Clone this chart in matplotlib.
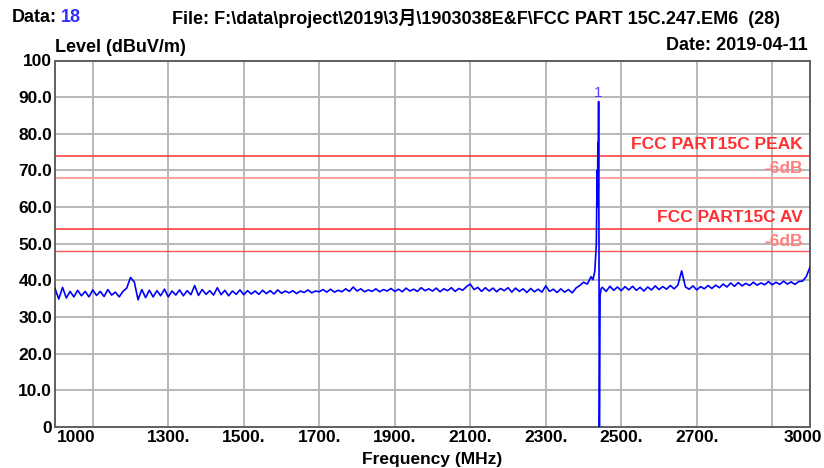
import numpy as np
import matplotlib
matplotlib.use("Agg")
import matplotlib.pyplot as plt
import matplotlib.transforms as mtransforms

plt.rcParams['font.family'] = ['Liberation Sans', 'Noto Sans CJK SC', 'DejaVu Sans']

# --- data ---
freq_lo = np.arange(1000, 2430, 10)
level_lo = [
    37.8, 34.9, 38.1, 35.2, 37.0, 35.5, 37.3, 35.8, 37.0, 35.5,
    37.4, 35.9, 37.0, 35.6, 37.5, 36.0, 36.8, 35.5, 37.0, 37.9,
    40.8, 39.6, 34.7, 37.5, 35.3, 37.3, 35.5, 37.2, 35.8, 37.6,
    35.5, 37.1, 36.0, 37.4, 35.8, 37.2, 36.1, 38.6, 35.9, 37.5,
    36.2, 37.2, 36.0, 38.0, 36.1, 37.3, 35.8, 37.1, 36.2, 37.4,
    36.1, 37.2, 36.3, 37.1, 36.2, 37.3, 36.4, 37.2, 36.3, 37.4,
    36.5, 37.1, 36.6, 37.2, 36.4, 37.1, 36.7, 37.4, 36.6, 37.1,
    36.9, 37.5, 36.8, 37.6, 36.8, 37.3, 36.9, 37.7, 37.0, 38.2,
    37.1, 37.7, 36.9, 37.4, 37.0, 37.7, 36.9, 37.5, 37.1, 37.8,
    37.0, 37.6, 36.9, 37.9, 37.1, 37.6, 37.0, 38.0, 37.2, 37.7,
    37.1, 37.9, 36.9, 37.7, 37.2, 38.0, 37.0, 37.8, 37.3, 38.3,
    39.0, 37.5, 38.1, 37.0, 38.0, 37.1, 37.9, 36.9, 37.8, 37.2,
    38.0, 36.8, 37.9, 37.0, 37.7, 36.7, 37.8, 36.9, 37.6, 36.8,
    38.5, 37.0, 37.6, 36.7, 37.7, 36.8, 37.5, 36.6, 37.9, 38.6,
    39.5, 39.0, 41.0,
]
freq_pk = [2425, 2430, 2434, 2436, 2437, 2438, 2439, 2440, 2441, 2442, 2444, 2447]
level_pk = [40.2, 42.5, 50.0, 70.0, 60.0, 77.6, 65.0, 88.8, 50.0, -3.0, 36.0, 37.8]
freq_hi = np.arange(2450, 3010, 10)
level_hi = [
    38.1, 37.0, 38.4, 37.3, 38.2,
    37.2, 38.3, 37.4, 38.4, 37.3, 38.1, 37.1, 38.2, 37.4, 38.5,
    37.5, 38.3, 37.6, 38.6, 37.7, 38.7, 42.6, 38.2, 37.6, 38.5,
    37.4, 38.3, 37.7, 38.6, 37.8, 38.7, 38.0, 39.0, 38.2, 39.3,
    38.4, 39.4, 38.5, 39.2, 38.6, 39.5, 38.7, 39.3, 38.8, 39.7,
    38.8, 39.5, 38.9, 39.8, 39.0, 39.6, 38.9, 39.7, 39.8, 41.0,
    43.6,
]

freq = np.concatenate([freq_lo, freq_pk, freq_hi])
level = np.concatenate([level_lo, level_pk, level_hi])

limit_peak = 74.0
limit_av = 54.0
margin = 6.0
marker_freq = 2440
marker_level = 88.8

grid_ticks = [1100, 1300, 1500, 1700, 1900, 2100, 2300, 2500, 2700, 2900]
grid_labels = ['', '1300.', '1500.', '1700.', '1900.', '2100.', '2300.', '2500.', '2700.', '']
y_ticks = [0, 10, 20, 30, 40, 50, 60, 70, 80, 90, 100]
y_labels = ['0', '10.0', '20.0', '30.0', '40.0', '50.0', '60.0', '70.0', '80.0', '90.0', '100']

fs = 12.5
fs_head = 13

fig = plt.figure(figsize=(8.24, 4.68), dpi=100)
ax = fig.add_axes([55 / 824, 1 - 427 / 468, 755 / 824, 366.5 / 468])

red = '#ff3030'
pink = '#ff9a9a'

ax.axhline(limit_peak, color=red, lw=1.1, zorder=2)
ax.axhline(limit_peak - margin, color=pink, lw=1.3, zorder=2)
ax.axhline(limit_av, color=red, lw=1.1, zorder=2)
ax.axhline(limit_av - margin, color=red, lw=1.0, alpha=0.8, zorder=2)

ax.plot(freq, level, color='#0000ff', lw=1.2, zorder=3)

ax.set_xlim(1000, 3000)
ax.set_ylim(0, 100)
ax.set_xticks(grid_ticks)
ax.set_xticklabels(grid_labels)
ax.set_yticks(y_ticks)
ax.set_yticklabels(y_labels)
ax.tick_params(length=0, labelsize=fs, pad=2)
for t in ax.get_xticklabels() + ax.get_yticklabels():
    t.set_fontweight('bold')
ax.grid(True, color='#b8b8b8', lw=1.4, zorder=1)
for s in ax.spines.values():
    s.set_color('#606060')
    s.set_linewidth(1.4)

# edge labels of the x axis
xtrans = mtransforms.blended_transform_factory(ax.transData, ax.transAxes)
ax.text(1000, -0.008, '1000', transform=xtrans + mtransforms.ScaledTranslation(2 / 100, 0, fig.dpi_scale_trans),
        ha='left', va='top', fontsize=fs, fontweight='bold')
ax.text(3000, -0.008, '3000', transform=xtrans + mtransforms.ScaledTranslation(12 / 100, 0, fig.dpi_scale_trans),
        ha='right', va='top', fontsize=fs, fontweight='bold')

ax.set_xlabel('Frequency (MHz)', fontsize=fs, fontweight='bold', labelpad=5)

# limit labels
ytrans = mtransforms.blended_transform_factory(ax.transAxes, ax.transData)
ax.text(0.99, limit_peak + 1.0, 'FCC PART15C PEAK', transform=ytrans, ha='right', va='bottom',
        color=red, fontsize=fs, fontweight='bold')
ax.text(0.99, limit_peak - margin + 0.5, '-6dB', transform=ytrans, ha='right', va='bottom',
        color='#ff8080', fontsize=fs, fontweight='bold')
ax.text(0.99, limit_av + 1.0, 'FCC PART15C AV', transform=ytrans, ha='right', va='bottom',
        color=red, fontsize=fs, fontweight='bold')
ax.text(0.99, limit_av - margin + 0.5, '-6dB', transform=ytrans, ha='right', va='bottom',
        color='#ff8080', fontsize=fs, fontweight='bold')

ax.text(marker_freq, marker_level + 0.3, '1', ha='center', va='bottom', color='#5a3cff', fontsize=11)

# header texts
fig.text(12 / 824, 1 - 18 / 468, 'Data:', fontsize=fs_head, fontweight='bold', va='center')
fig.text(61 / 824, 1 - 18 / 468, '18', fontsize=fs_head, fontweight='bold', color='#3030ff', va='center')
fig.text(172 / 824, 1 - 18 / 468, 'File: F:\\data\\project\\2019\\3月\\1903038E&F\\FCC PART 15C.247.EM6  (28)',
         fontsize=fs_head, fontweight='bold', va='center')
fig.text(55 / 824, 1 - 47 / 468, 'Level (dBuV/m)', fontsize=fs_head, fontweight='bold', va='center')
fig.text(808 / 824, 1 - 45 / 468, 'Date: 2019-04-11', fontsize=fs_head, fontweight='bold', va='center', ha='right')

fig.savefig('out.png', dpi=100)
